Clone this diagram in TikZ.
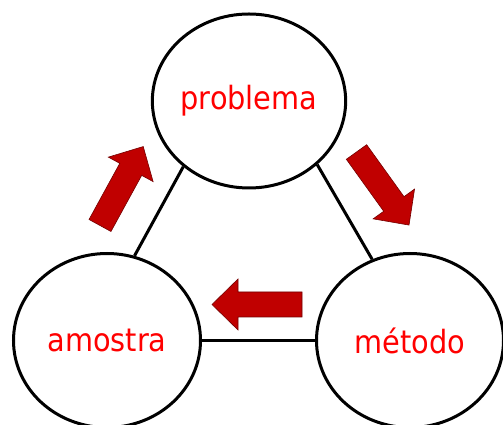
\documentclass[tikz,border=0pt]{standalone}
\usepackage{fontspec}
\setmainfont{DejaVu Sans Condensed}
\usetikzlibrary{shapes.geometric}
\definecolor{vinho}{HTML}{C00000}
\definecolor{texto}{HTML}{FF0000}
\tikzset{
	bola/.style={ellipse, draw=black, line width=3pt, fill=white,
		minimum width=187pt, minimum height=174pt, inner sep=0pt,
		text=texto, font=\fontsize{32}{38}\selectfont},
	ligacao/.style={line width=3pt},
	seta/.pic={
		\filldraw [fill=vinho, draw=vinho!60!black, line width=0.6pt]
			(0,-12.5) -- (64,-12.5) -- (64,-25.5) -- (90,0) -- (64,25.5)
			-- (64,12.5) -- (0,12.5) -- cycle;
	}
}
\begin{document}
\begin{tikzpicture}[x=1pt, y=1pt]
\useasboundingbox (0,0) rectangle (503,425);

\node [bola] (problema) at (249,324) {problema};
\node [bola] (amostra) at (107,84.5) {amostra};
\node [bola] (metodo) at (410,84.5) {método};

\draw [ligacao] (problema.225) -- (amostra.72);
\draw [ligacao] (problema.317) -- (metodo.115);
\draw [ligacao] (amostra.east) -- (metodo.west);

\pic [rotate=61.3]  at (100,199.5) {seta};
\pic [rotate=-54.3] at (356.5,273) {seta};
\pic [rotate=180]   at (302,120.5) {seta};
\end{tikzpicture}
\end{document}
